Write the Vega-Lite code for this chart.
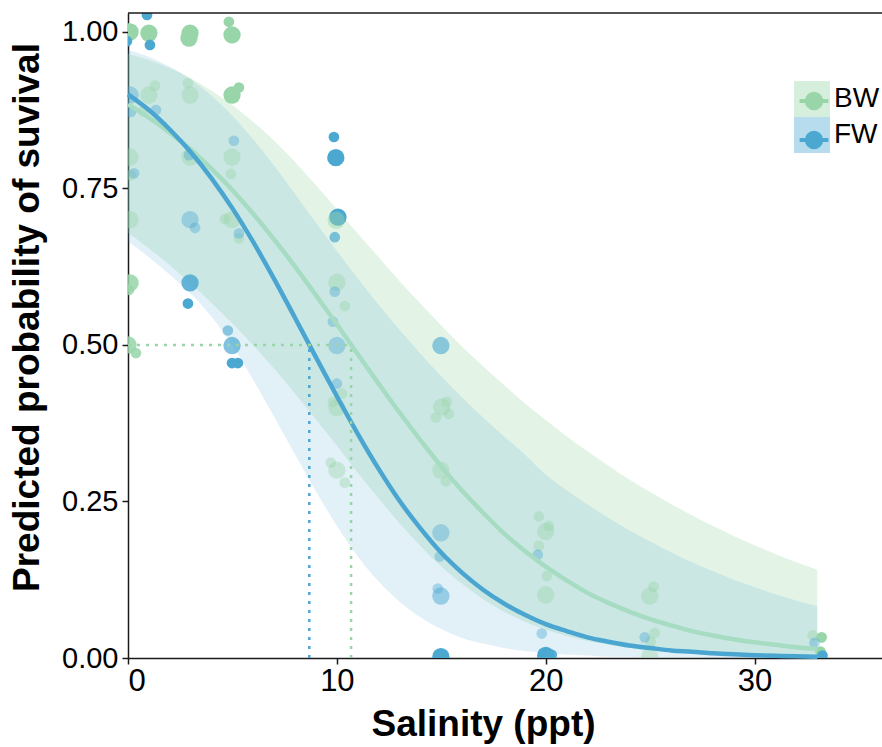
{
  "$schema": "https://vega.github.io/schema/vega-lite/v6.json",
  "autosize": "none",
  "width": 754,
  "height": 645,
  "padding": {"left": 128, "top": 13, "right": 0, "bottom": 89},
  "config": {
    "view": {"stroke": null},
    "axis": {
      "grid": false,
      "domainColor": "#1a1a1a",
      "domainWidth": 1.5,
      "tickColor": "#1a1a1a",
      "tickWidth": 1.5,
      "tickSize": 6,
      "labelFont": "Liberation Sans",
      "labelFontSize": 29,
      "labelColor": "#000000",
      "titleFont": "Liberation Sans",
      "titleFontWeight": "bold",
      "titleFontSize": 37,
      "titleColor": "#000000"
    }
  },
  "datasets": {
    "bands": [
      {"group":"BW","s":0,"lo":0.679,"hi":0.965},{"group":"BW","s":1,"lo":0.654,"hi":0.955},{"group":"BW","s":2,"lo":0.627,"hi":0.942},{"group":"BW","s":3,"lo":0.598,"hi":0.926},{"group":"BW","s":4,"lo":0.567,"hi":0.906},{"group":"BW","s":5,"lo":0.534,"hi":0.883},{"group":"BW","s":6,"lo":0.499,"hi":0.856},{"group":"BW","s":7,"lo":0.462,"hi":0.826},{"group":"BW","s":8,"lo":0.422,"hi":0.792},{"group":"BW","s":9,"lo":0.381,"hi":0.755},{"group":"BW","s":10,"lo":0.339,"hi":0.717},{"group":"BW","s":11,"lo":0.296,"hi":0.678},{"group":"BW","s":12,"lo":0.255,"hi":0.640},{"group":"BW","s":13,"lo":0.215,"hi":0.602},{"group":"BW","s":14,"lo":0.179,"hi":0.566},{"group":"BW","s":15,"lo":0.146,"hi":0.531},{"group":"BW","s":16,"lo":0.118,"hi":0.497},{"group":"BW","s":17,"lo":0.094,"hi":0.466},{"group":"BW","s":18,"lo":0.074,"hi":0.436},{"group":"BW","s":19,"lo":0.058,"hi":0.407},{"group":"BW","s":20,"lo":0.045,"hi":0.380},{"group":"BW","s":21,"lo":0.035,"hi":0.354},{"group":"BW","s":22,"lo":0.027,"hi":0.330},{"group":"BW","s":23,"lo":0.021,"hi":0.307},{"group":"BW","s":24,"lo":0.016,"hi":0.285},{"group":"BW","s":25,"lo":0.012,"hi":0.265},{"group":"BW","s":26,"lo":0.009,"hi":0.246},{"group":"BW","s":27,"lo":0.007,"hi":0.228},{"group":"BW","s":28,"lo":0.005,"hi":0.211},{"group":"BW","s":29,"lo":0.004,"hi":0.195},{"group":"BW","s":30,"lo":0.003,"hi":0.180},{"group":"BW","s":31,"lo":0.002,"hi":0.166},{"group":"BW","s":32,"lo":0.002,"hi":0.153},{"group":"BW","s":33,"lo":0.001,"hi":0.141},
      {"group":"FW","s":0,"lo":0.665,"hi":0.971},{"group":"FW","s":1,"lo":0.640,"hi":0.960},{"group":"FW","s":2,"lo":0.612,"hi":0.944},{"group":"FW","s":3,"lo":0.582,"hi":0.924},{"group":"FW","s":4,"lo":0.545,"hi":0.898},{"group":"FW","s":5,"lo":0.499,"hi":0.866},{"group":"FW","s":6,"lo":0.444,"hi":0.828},{"group":"FW","s":7,"lo":0.385,"hi":0.786},{"group":"FW","s":8,"lo":0.325,"hi":0.741},{"group":"FW","s":9,"lo":0.266,"hi":0.695},{"group":"FW","s":10,"lo":0.211,"hi":0.650},{"group":"FW","s":11,"lo":0.162,"hi":0.606},{"group":"FW","s":12,"lo":0.122,"hi":0.564},{"group":"FW","s":13,"lo":0.090,"hi":0.524},{"group":"FW","s":14,"lo":0.065,"hi":0.486},{"group":"FW","s":15,"lo":0.046,"hi":0.450},{"group":"FW","s":16,"lo":0.032,"hi":0.416},{"group":"FW","s":17,"lo":0.023,"hi":0.384},{"group":"FW","s":18,"lo":0.016,"hi":0.354},{"group":"FW","s":19,"lo":0.011,"hi":0.325},{"group":"FW","s":20,"lo":0.008,"hi":0.293},{"group":"FW","s":21,"lo":0.005,"hi":0.268},{"group":"FW","s":22,"lo":0.004,"hi":0.245},{"group":"FW","s":23,"lo":0.002,"hi":0.224},{"group":"FW","s":24,"lo":0.002,"hi":0.204},{"group":"FW","s":25,"lo":0.001,"hi":0.186},{"group":"FW","s":26,"lo":0.001,"hi":0.169},{"group":"FW","s":27,"lo":0.001,"hi":0.153},{"group":"FW","s":28,"lo":0.0,"hi":0.139},{"group":"FW","s":29,"lo":0.0,"hi":0.125},{"group":"FW","s":30,"lo":0.0,"hi":0.113},{"group":"FW","s":31,"lo":0.0,"hi":0.102},{"group":"FW","s":32,"lo":0.0,"hi":0.092},{"group":"FW","s":33,"lo":0.0,"hi":0.083}
    ],
    "curves": [
      {"group":"BW","s":0,"p":0.884},{"group":"BW","s":1,"p":0.863},{"group":"BW","s":2,"p":0.839},{"group":"BW","s":3,"p":0.812},{"group":"BW","s":4,"p":0.781},{"group":"BW","s":5,"p":0.747},{"group":"BW","s":6,"p":0.709},{"group":"BW","s":7,"p":0.668},{"group":"BW","s":8,"p":0.625},{"group":"BW","s":9,"p":0.579},{"group":"BW","s":10,"p":0.533},{"group":"BW","s":11,"p":0.485},{"group":"BW","s":12,"p":0.438},{"group":"BW","s":13,"p":0.392},{"group":"BW","s":14,"p":0.348},{"group":"BW","s":15,"p":0.306},{"group":"BW","s":16,"p":0.267},{"group":"BW","s":17,"p":0.232},{"group":"BW","s":18,"p":0.199},{"group":"BW","s":19,"p":0.171},{"group":"BW","s":20,"p":0.146},{"group":"BW","s":21,"p":0.124},{"group":"BW","s":22,"p":0.104},{"group":"BW","s":23,"p":0.088},{"group":"BW","s":24,"p":0.074},{"group":"BW","s":25,"p":0.062},{"group":"BW","s":26,"p":0.052},{"group":"BW","s":27,"p":0.043},{"group":"BW","s":28,"p":0.036},{"group":"BW","s":29,"p":0.030},{"group":"BW","s":30,"p":0.025},{"group":"BW","s":31,"p":0.021},{"group":"BW","s":32,"p":0.017},{"group":"BW","s":33,"p":0.014},
      {"group":"FW","s":0,"p":0.900},{"group":"FW","s":1,"p":0.875},{"group":"FW","s":2,"p":0.844},{"group":"FW","s":3,"p":0.808},{"group":"FW","s":4,"p":0.766},{"group":"FW","s":5,"p":0.718},{"group":"FW","s":6,"p":0.664},{"group":"FW","s":7,"p":0.605},{"group":"FW","s":8,"p":0.543},{"group":"FW","s":9,"p":0.480},{"group":"FW","s":10,"p":0.418},{"group":"FW","s":11,"p":0.358},{"group":"FW","s":12,"p":0.302},{"group":"FW","s":13,"p":0.251},{"group":"FW","s":14,"p":0.207},{"group":"FW","s":15,"p":0.168},{"group":"FW","s":16,"p":0.136},{"group":"FW","s":17,"p":0.109},{"group":"FW","s":18,"p":0.087},{"group":"FW","s":19,"p":0.069},{"group":"FW","s":20,"p":0.054},{"group":"FW","s":21,"p":0.043},{"group":"FW","s":22,"p":0.033},{"group":"FW","s":23,"p":0.026},{"group":"FW","s":24,"p":0.020},{"group":"FW","s":25,"p":0.016},{"group":"FW","s":26,"p":0.012},{"group":"FW","s":27,"p":0.010},{"group":"FW","s":28,"p":0.0075},{"group":"FW","s":29,"p":0.0058},{"group":"FW","s":30,"p":0.0045},{"group":"FW","s":31,"p":0.0035},{"group":"FW","s":32,"p":0.0027},{"group":"FW","s":33,"p":0.0021}
    ],
    "pts": [
      {"group":"BW","s":0.10,"p":1.000,"n":2,"w":1},
      {"group":"BW","s":0.10,"p":0.800,"n":2,"w":0.4},
      {"group":"BW","s":0.14,"p":0.771,"n":1,"w":0.4},
      {"group":"BW","s":0.10,"p":0.700,"n":2,"w":0.4},
      {"group":"BW","s":0.10,"p":0.599,"n":2,"w":0.85},
      {"group":"BW","s":0.05,"p":0.588,"n":1,"w":0.85},
      {"group":"BW","s":0.00,"p":0.500,"n":2,"w":0.85},
      {"group":"BW","s":0.38,"p":0.487,"n":1,"w":0.85},
      {"group":"BW","s":1.00,"p":0.998,"n":2,"w":1},
      {"group":"BW","s":1.00,"p":0.899,"n":2,"w":0.4},
      {"group":"BW","s":1.29,"p":0.914,"n":1,"w":0.4},
      {"group":"BW","s":0.72,"p":0.873,"n":1,"w":0.4},
      {"group":"BW","s":2.97,"p":0.998,"n":2,"w":1},
      {"group":"BW","s":2.92,"p":0.990,"n":2,"w":1},
      {"group":"BW","s":2.97,"p":0.899,"n":2,"w":0.4},
      {"group":"BW","s":2.87,"p":0.918,"n":1,"w":0.4},
      {"group":"BW","s":2.97,"p":0.800,"n":2,"w":0.4},
      {"group":"BW","s":4.83,"p":1.016,"n":1,"w":1},
      {"group":"BW","s":4.98,"p":0.995,"n":2,"w":1},
      {"group":"BW","s":4.98,"p":0.899,"n":2,"w":1},
      {"group":"BW","s":5.31,"p":0.911,"n":1,"w":1},
      {"group":"BW","s":4.98,"p":0.800,"n":2,"w":0.4},
      {"group":"BW","s":4.93,"p":0.773,"n":1,"w":0.4},
      {"group":"BW","s":4.98,"p":0.700,"n":2,"w":0.4},
      {"group":"BW","s":4.64,"p":0.701,"n":1,"w":0.4},
      {"group":"BW","s":5.31,"p":0.670,"n":1,"w":0.4},
      {"group":"BW","s":10.00,"p":0.600,"n":2,"w":0.4},
      {"group":"BW","s":10.38,"p":0.562,"n":1,"w":0.4},
      {"group":"BW","s":10.00,"p":0.400,"n":2,"w":0.4},
      {"group":"BW","s":10.24,"p":0.422,"n":1,"w":0.4},
      {"group":"BW","s":9.81,"p":0.409,"n":1,"w":0.4},
      {"group":"BW","s":10.00,"p":0.300,"n":2,"w":0.4},
      {"group":"BW","s":10.38,"p":0.280,"n":1,"w":0.4},
      {"group":"BW","s":9.71,"p":0.312,"n":1,"w":0.4},
      {"group":"BW","s":15.02,"p":0.401,"n":2,"w":0.4},
      {"group":"BW","s":15.26,"p":0.409,"n":1,"w":0.4},
      {"group":"BW","s":15.36,"p":0.390,"n":1,"w":0.4},
      {"group":"BW","s":14.74,"p":0.384,"n":1,"w":0.4},
      {"group":"BW","s":14.98,"p":0.300,"n":2,"w":0.4},
      {"group":"BW","s":15.22,"p":0.282,"n":1,"w":0.4},
      {"group":"BW","s":19.67,"p":0.226,"n":1,"w":0.4},
      {"group":"BW","s":20.00,"p":0.202,"n":2,"w":0.4},
      {"group":"BW","s":20.14,"p":0.211,"n":1,"w":0.4},
      {"group":"BW","s":19.67,"p":0.179,"n":1,"w":0.4},
      {"group":"BW","s":20.05,"p":0.131,"n":1,"w":0.4},
      {"group":"BW","s":20.00,"p":0.101,"n":2,"w":0.4},
      {"group":"BW","s":24.98,"p":0.099,"n":2,"w":0.4},
      {"group":"BW","s":25.17,"p":0.114,"n":1,"w":0.4},
      {"group":"BW","s":25.22,"p":0.040,"n":1,"w":0.4},
      {"group":"BW","s":25.02,"p":0.026,"n":1,"w":0.4},
      {"group":"BW","s":24.98,"p":0.002,"n":2,"w":0.4},
      {"group":"BW","s":32.78,"p":0.036,"n":1,"w":0.4},
      {"group":"BW","s":33.21,"p":0.033,"n":1,"w":1},
      {"group":"BW","s":33.16,"p":0.010,"n":1,"w":1},
      {"group":"FW","s":-0.05,"p":0.985,"n":1,"w":1},
      {"group":"FW","s":0.10,"p":0.899,"n":2,"w":0.4},
      {"group":"FW","s":0.14,"p":0.872,"n":1,"w":0.4},
      {"group":"FW","s":0.29,"p":0.774,"n":1,"w":0.4},
      {"group":"FW","s":0.91,"p":1.027,"n":1,"w":1},
      {"group":"FW","s":1.05,"p":0.979,"n":1,"w":1},
      {"group":"FW","s":1.34,"p":0.875,"n":1,"w":0.4},
      {"group":"FW","s":2.92,"p":0.803,"n":1,"w":0.4},
      {"group":"FW","s":2.97,"p":0.700,"n":2,"w":0.4},
      {"group":"FW","s":3.21,"p":0.687,"n":1,"w":0.4},
      {"group":"FW","s":2.97,"p":0.599,"n":2,"w":0.85},
      {"group":"FW","s":2.87,"p":0.566,"n":1,"w":1},
      {"group":"FW","s":5.07,"p":0.826,"n":1,"w":0.4},
      {"group":"FW","s":5.31,"p":0.678,"n":1,"w":0.4},
      {"group":"FW","s":4.78,"p":0.523,"n":1,"w":0.6},
      {"group":"FW","s":4.98,"p":0.499,"n":2,"w":0.7},
      {"group":"FW","s":4.98,"p":0.471,"n":1,"w":1},
      {"group":"FW","s":5.26,"p":0.471,"n":1,"w":1},
      {"group":"FW","s":9.86,"p":0.832,"n":1,"w":1},
      {"group":"FW","s":9.95,"p":0.799,"n":2,"w":1},
      {"group":"FW","s":10.05,"p":0.704,"n":2,"w":1},
      {"group":"FW","s":9.90,"p":0.672,"n":1,"w":0.7},
      {"group":"FW","s":9.90,"p":0.585,"n":1,"w":0.4},
      {"group":"FW","s":9.81,"p":0.537,"n":1,"w":0.4},
      {"group":"FW","s":10.00,"p":0.499,"n":2,"w":0.4},
      {"group":"FW","s":10.00,"p":0.438,"n":1,"w":0.4},
      {"group":"FW","s":14.98,"p":0.499,"n":2,"w":0.6},
      {"group":"FW","s":14.98,"p":0.200,"n":2,"w":0.4},
      {"group":"FW","s":14.93,"p":0.162,"n":1,"w":0.4},
      {"group":"FW","s":14.98,"p":0.099,"n":2,"w":0.5},
      {"group":"FW","s":14.83,"p":0.111,"n":1,"w":0.4},
      {"group":"FW","s":14.98,"p":0.002,"n":2,"w":1},
      {"group":"FW","s":19.62,"p":0.165,"n":1,"w":0.4},
      {"group":"FW","s":19.81,"p":0.039,"n":1,"w":0.4},
      {"group":"FW","s":20.00,"p":0.004,"n":2,"w":1},
      {"group":"FW","s":20.29,"p":0.005,"n":1,"w":0.9},
      {"group":"FW","s":24.74,"p":0.033,"n":1,"w":0.4},
      {"group":"FW","s":32.87,"p":0.024,"n":1,"w":0.4},
      {"group":"FW","s":33.25,"p":0.004,"n":1,"w":1},
      {"group":"BW","s":9.97,"p":0.699,"n":2,"w":0.45}
    ],
    "refsBW": [
      {"s":0,"s2":10.68,"p":0.5,"p2":0.5},
      {"s":10.68,"s2":10.68,"p":0,"p2":0.5}
    ],
    "refsFW": [
      {"s":8.68,"s2":8.68,"p":0,"p2":0.5}
    ]
  },
  "layer": [
    {
      "data": {"name": "bands"},
      "mark": {"type": "area", "interpolate": "monotone"},
      "encoding": {
        "x": {"field": "s", "type": "quantitative", "scale": {"domain": [0, 36.1], "nice": false, "zero": false},
              "axis": {"title": "Salinity (ppt)", "values": [0, 10, 20, 30], "labelFontSize": 31, "labelPadding": 2, "titleX": 355, "titleY": 77, "titleBaseline": "alphabetic"}},
        "y": {"field": "lo", "type": "quantitative", "scale": {"domain": [0, 1.03], "nice": false, "zero": false},
              "axis": {"title": "Predicted probability of suvival", "values": [0, 0.25, 0.5, 0.75, 1], "format": ".2f", "labelPadding": 4, "titleX": -90, "titleY": 304, "titleBaseline": "alphabetic"}},
        "y2": {"field": "hi"},
        "fill": {"field": "group", "type": "nominal", "scale": {"range": ["#98d5a8", "#4ba8d1"]},
                 "legend": {"title": null, "orient": "none", "legendX": 666, "legendY": 68, "padding": 0, "rowPadding": 0,
                            "symbolType": "square", "symbolSize": 1296, "symbolOpacity": 0.4, "symbolFillOpacity": 0.4, "symbolStrokeWidth": 0,
                            "labelFont": "Liberation Sans", "labelFontSize": 28, "labelColor": "#000000", "labelOffset": 4, "zindex": 0}},
        "fillOpacity": {"field": "group", "type": "ordinal", "scale": {"range": [0.27, 0.16]}, "legend": null}
      }
    },
    {
      "data": {"name": "pts"},
      "mark": {"type": "point", "filled": true, "clip": true, "strokeWidth": 0},
      "encoding": {
        "x": {"field": "s", "type": "quantitative"},
        "y": {"field": "p", "type": "quantitative"},
        "color": {"field": "group", "type": "nominal", "scale": {"range": ["#98d5a8", "#4ba8d1"]},
                  "legend": {"title": null, "orient": "none", "legendX": 666, "legendY": 68, "padding": 0, "rowPadding": 0,
                             "symbolType": "M-0.556,-0.556M0.556,0.556M-0.8,0L0.8,0M-0.4,0A0.4,0.4,0,1,1,0.4,0A0.4,0.4,0,1,1,-0.4,0Z", "symbolSize": 1296, "symbolOpacity": 1, "symbolStrokeWidth": 4,
                             "labelFont": "Liberation Sans", "labelFontSize": 28, "labelExpr": "''", "labelOffset": 4, "zindex": 2,
                             "encode": {"symbols": {"update": {"stroke": {"scale": "color", "field": "value"}, "strokeWidth": {"value": 4}}}}}},
        "size": {"field": "n", "type": "quantitative", "scale": {"domain": [1, 2], "range": [115, 300]}, "legend": null},
        "opacity": {"field": "w", "type": "quantitative", "scale": {"domain": [0, 1], "range": [0, 1]}, "legend": null}
      }
    },
    {
      "data": {"name": "curves"},
      "mark": {"type": "line", "interpolate": "monotone", "strokeWidth": 4.5},
      "encoding": {
        "x": {"field": "s", "type": "quantitative"},
        "y": {"field": "p", "type": "quantitative"},
        "stroke": {"field": "group", "type": "nominal", "scale": {"range": ["#a6dcc2", "#4aa6d0"]}, "legend": null}
      }
    },
    {
      "data": {"name": "refsBW"},
      "mark": {"type": "rule", "color": "#98d5a8", "strokeWidth": 2.5, "strokeDash": [3, 6]},
      "encoding": {
        "x": {"field": "s", "type": "quantitative"},
        "x2": {"field": "s2"},
        "y": {"field": "p", "type": "quantitative"},
        "y2": {"field": "p2"}
      }
    },
    {
      "data": {"name": "refsFW"},
      "mark": {"type": "rule", "color": "#4ba8d1", "strokeWidth": 2.5, "strokeDash": [3, 6]},
      "encoding": {
        "x": {"field": "s", "type": "quantitative"},
        "x2": {"field": "s2"},
        "y": {"field": "p", "type": "quantitative"},
        "y2": {"field": "p2"}
      }
    },
    {
      "data": {"values": [{}]},
      "mark": {"type": "rule", "color": "#1a1a1a", "strokeWidth": 1.5},
      "encoding": {"y": {"datum": 1.03}}
    }
  ]
}
